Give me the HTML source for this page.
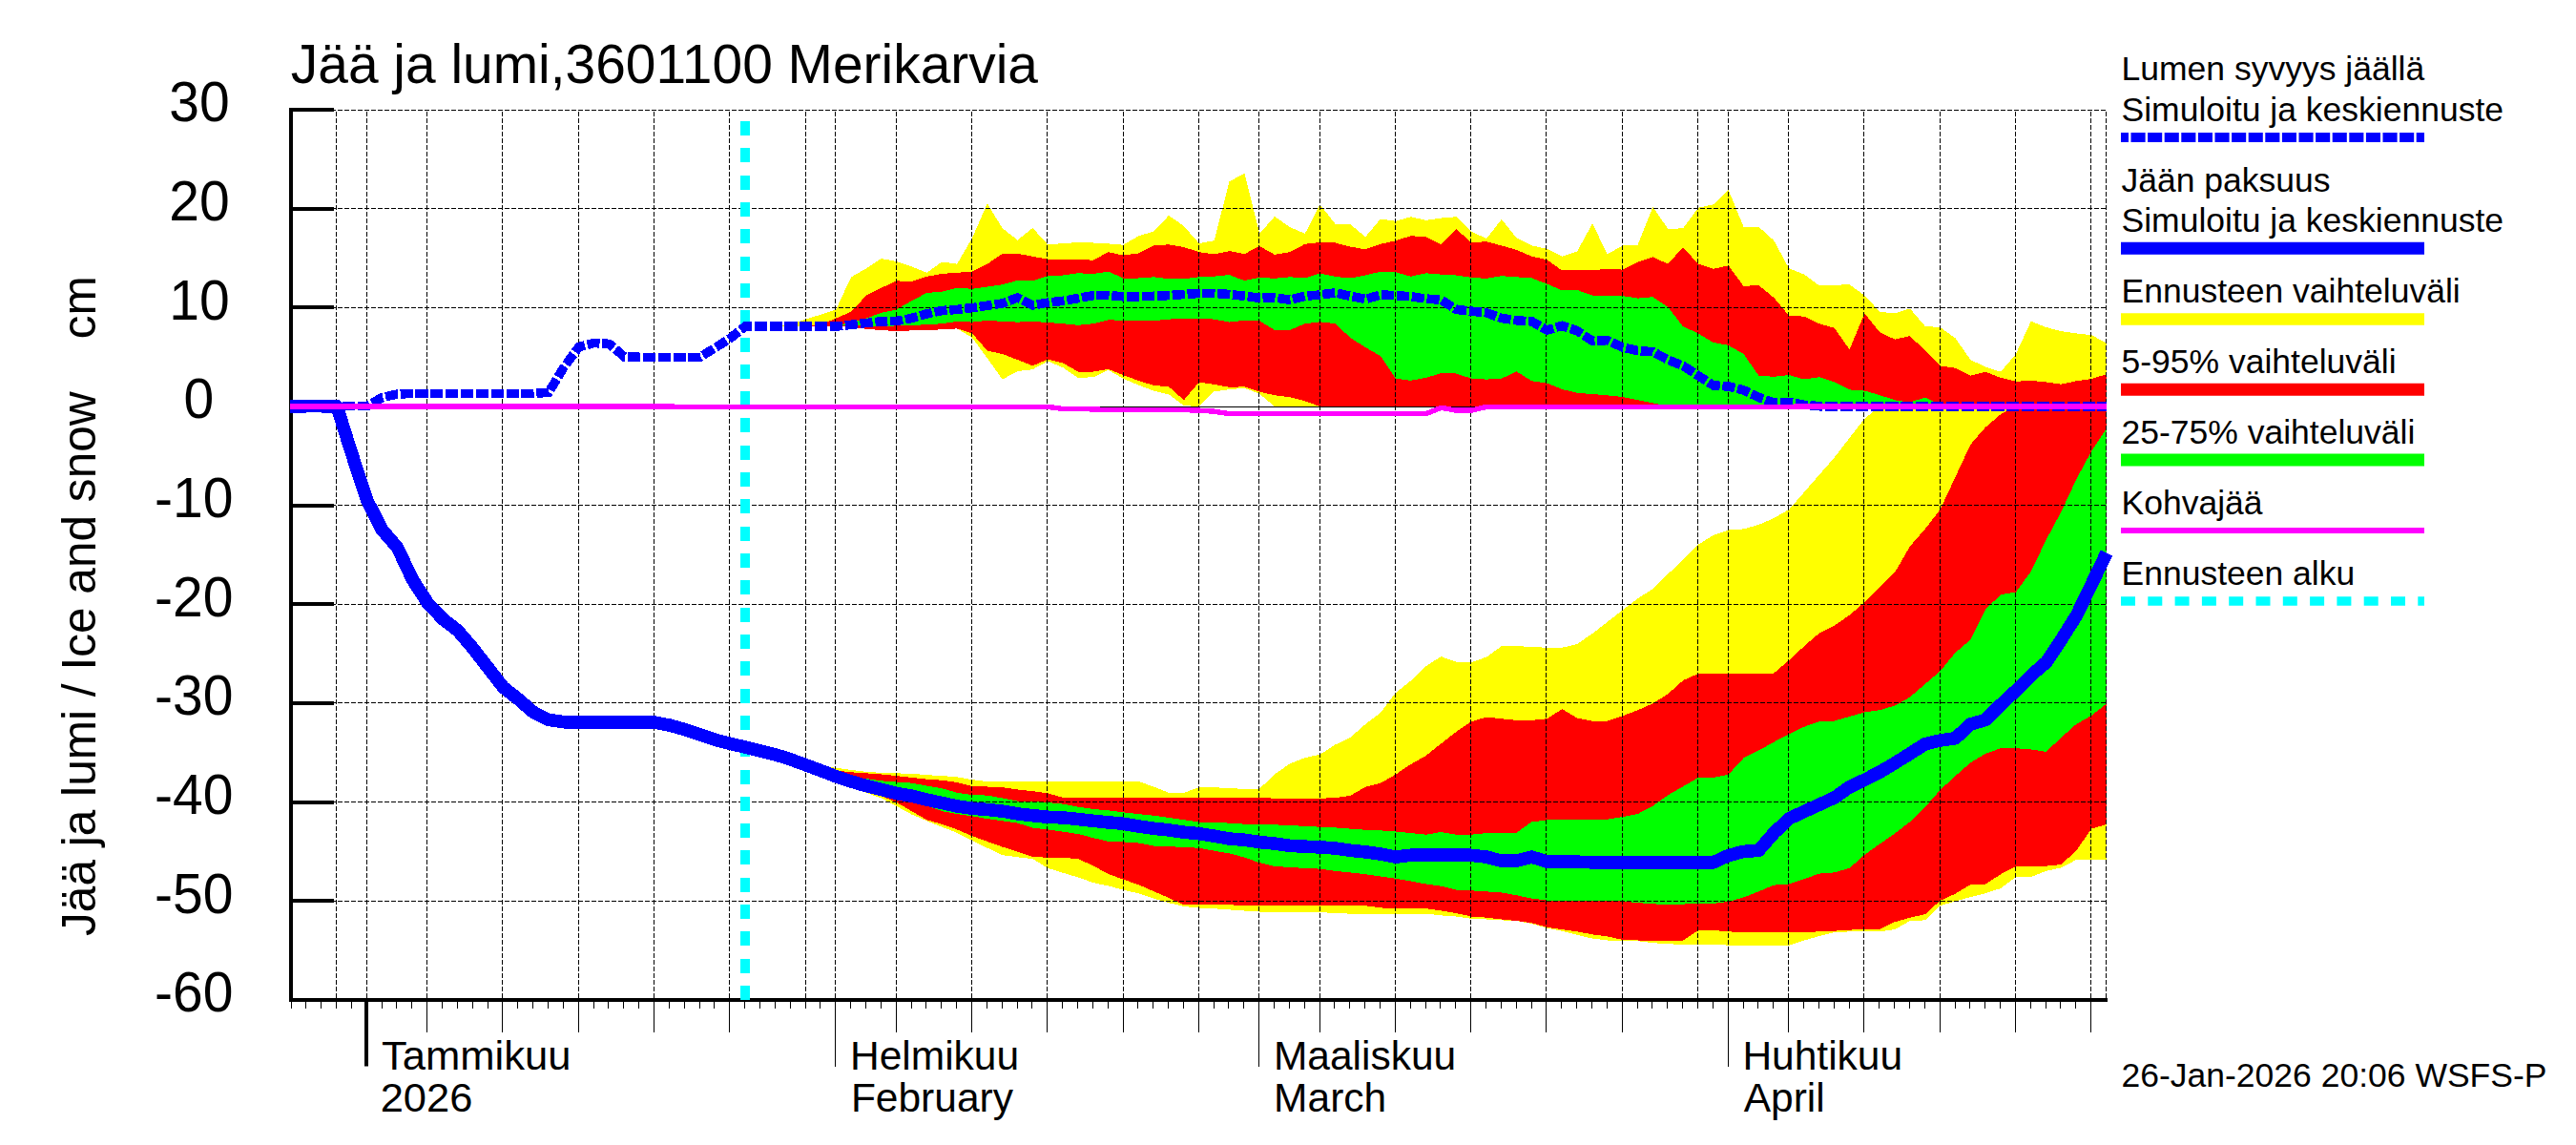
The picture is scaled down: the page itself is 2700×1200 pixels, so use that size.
<!DOCTYPE html>
<html lang="fi"><head><meta charset="utf-8"><title>Jää ja lumi, 3601100 Merikarvia</title>
<style>
html,body{margin:0;padding:0;background:#fff;}
body{width:2700px;height:1200px;overflow:hidden;}
svg{display:block;}
text{font-family:"Liberation Sans",sans-serif;fill:#000;}
.tk{font-size:57px;}
.mo{font-size:42.5px;}
.lg{font-size:35.5px;}
.ti{font-size:56.9px;}
.yl{font-size:49.6px;}
.g{stroke:#000;stroke-width:1;stroke-dasharray:5 2;fill:none;shape-rendering:crispEdges;}
.t1{stroke:#000;stroke-width:1;shape-rendering:crispEdges;}
</style></head><body>
<svg width="2700" height="1200" viewBox="0 0 2700 1200">
<rect width="2700" height="1200" fill="#fff"/>
<defs><clipPath id="cp"><rect x="305" y="113" width="1903.5" height="937"/></clipPath></defs>
<g clip-path="url(#cp)" shape-rendering="crispEdges">
<polygon fill="#ffff00" points="781.1,783 797,786.9 812.9,790.9 828.7,795.9 844.6,801.3 860.4,803.1 876.3,804.7 892.1,807 908,808.8 923.8,809.9 939.7,810.4 955.5,810.8 971.4,812.2 987.3,813.1 1003.1,814.3 1019,817.2 1034.8,819 1050.7,819 1066.5,819 1082.4,819 1098.2,819 1114.1,819 1129.9,819 1145.8,819 1161.7,819 1177.5,819 1193.4,819 1209.2,824.5 1225.1,830.8 1240.9,830.8 1256.8,825.1 1272.6,825.1 1288.5,826.3 1304.3,826.7 1320.2,826.7 1336,811.3 1351.9,800.5 1367.8,794.1 1383.6,790.7 1399.5,780.5 1415.3,773 1431.2,758.9 1447,747.1 1462.9,726 1478.7,713.5 1494.6,698.1 1510.4,688.1 1526.3,693.6 1542.2,694.2 1558,688.6 1573.9,677.2 1589.7,677.2 1605.6,677.9 1621.4,678.8 1637.3,678.8 1653.1,674.9 1669,664.1 1684.8,651.8 1700.7,639.3 1716.6,627.3 1732.4,617.1 1748.3,601.6 1764.1,586.6 1780,570.8 1795.8,560.8 1811.7,555.5 1827.5,554.4 1843.4,549.9 1859.2,543.1 1875.1,534 1891,515.8 1906.8,497.6 1922.7,479.5 1938.5,459 1954.4,438.6 1970.2,426.1 1986.1,426 2001.9,426 2017.8,426 2033.6,426 2049.5,426 2065.4,426 2081.2,426 2097.1,426 2112.9,426 2128.8,426 2144.6,426 2160.5,426 2176.3,426 2192.2,426 2208,426 2208,901 2192.2,901 2176.3,901 2160.5,909.4 2144.6,912.8 2128.8,919 2112.9,919 2097.1,931 2081.2,936.2 2065.4,940.1 2049.5,944.6 2033.6,949.2 2017.8,964.4 2001.9,965.1 1986.1,974.1 1970.2,976.4 1954.4,976.4 1938.5,976.4 1922.7,977.1 1906.8,981 1891,985.5 1875.1,990.7 1859.2,990.7 1843.4,990.7 1827.5,990.7 1811.7,990.7 1795.8,989.7 1780,989.7 1764.1,989.7 1748.3,989.4 1732.4,988.1 1716.6,986.2 1700.7,985.5 1684.8,985.5 1669,983.6 1653.1,979.8 1637.3,975.7 1621.4,972.6 1605.6,968 1589.7,965.1 1573.9,964.4 1558,963.5 1542.2,962.8 1526.3,960.5 1510.4,959.4 1494.6,957.6 1478.7,957.6 1462.9,957.6 1447,957.6 1431.2,957.6 1415.3,957.6 1399.5,957.1 1383.6,956 1367.8,956 1351.9,956 1336,955.8 1320.2,955.5 1304.3,954.5 1288.5,953.4 1272.6,952.3 1256.8,951.6 1240.9,950 1225.1,946.2 1209.2,941.6 1193.4,936.4 1177.5,932.6 1161.7,928.5 1145.8,925.1 1129.9,919.4 1114.1,914.8 1098.2,909.8 1082.4,900.1 1066.5,898.3 1050.7,896.2 1034.8,888.7 1019,880.8 1003.1,872.8 987.3,866.7 971.4,860.3 955.5,853.5 939.7,844.9 923.8,836.5 908,830.8 892.1,825.8 876.3,819.5 860.4,809.3 844.6,801.7 828.7,795.9 812.9,790.9 797,786.9 781.1,783"/>
<polygon fill="#ff0000" points="781.1,783 797,786.9 812.9,790.9 828.7,795.9 844.6,801.7 860.4,805.8 876.3,807.4 892.1,809.3 908,810.4 923.8,811.5 939.7,813.1 955.5,814.9 971.4,816.7 987.3,817.7 1003.1,819.9 1019,824 1034.8,824.5 1050.7,825.1 1066.5,827.4 1082.4,829.2 1098.2,831.3 1114.1,835.8 1129.9,836.3 1145.8,836.3 1161.7,836.3 1177.5,836.3 1193.4,836.3 1209.2,836.3 1225.1,836.3 1240.9,836.3 1256.8,836.3 1272.6,836.3 1288.5,836.3 1304.3,836.2 1320.2,836.2 1336,836.6 1351.9,836.8 1367.8,836.8 1383.6,836.8 1399.5,836.1 1415.3,833.9 1431.2,824.8 1447,820.7 1462.9,811.6 1478.7,801 1494.6,791.9 1510.4,779.4 1526.3,766.9 1542.2,756.2 1558,751.5 1573.9,753.3 1589.7,754.9 1605.6,754.9 1621.4,753.3 1637.3,743.1 1653.1,752.6 1669,755.8 1684.8,755.5 1700.7,750.3 1716.6,744.2 1732.4,737.4 1748.3,727.2 1764.1,713.1 1780,706 1795.8,705.6 1811.7,705.6 1827.5,705.6 1843.4,705.6 1859.2,705.6 1875.1,692 1891,677.2 1906.8,663.6 1922.7,655.5 1938.5,644.8 1954.4,631.1 1970.2,615.2 1986.1,599.9 2001.9,572.6 2017.8,554.4 2033.6,534 2049.5,499.9 2065.4,465.8 2081.2,447.7 2097.1,434.1 2112.9,426.1 2128.8,426 2144.6,426 2160.5,426 2176.3,426 2192.2,426 2208,426 2208,864 2192.2,868.6 2176.3,891.3 2160.5,906 2144.6,907.6 2128.8,908.3 2112.9,908.3 2097.1,916.2 2081.2,926.5 2065.4,927.1 2049.5,936.7 2033.6,943.9 2017.8,958.2 2001.9,961.7 1986.1,966.2 1970.2,974.1 1954.4,974.1 1938.5,974.6 1922.7,975.7 1906.8,976.4 1891,976.9 1875.1,976.9 1859.2,976.9 1843.4,976.9 1827.5,976.9 1811.7,976.4 1795.8,975 1780,975 1764.1,985.7 1748.3,986.1 1732.4,986.1 1716.6,985.5 1700.7,984.8 1684.8,981.5 1669,979.3 1653.1,976.4 1637.3,974.1 1621.4,971.9 1605.6,967.3 1589.7,965.1 1573.9,963.5 1558,961.7 1542.2,960.5 1526.3,957.1 1510.4,954.4 1494.6,952.1 1478.7,952.1 1462.9,952.1 1447,951.4 1431.2,949.2 1415.3,949.2 1399.5,949.2 1383.6,949.2 1367.8,949.2 1351.9,949.2 1336,948.8 1320.2,948.8 1304.3,948.8 1288.5,948.4 1272.6,948.4 1256.8,948.4 1240.9,948.4 1225.1,941 1209.2,934.1 1193.4,927.3 1177.5,921.7 1161.7,916 1145.8,907.3 1129.9,900.1 1114.1,898.9 1098.2,898.9 1082.4,897.8 1066.5,892.6 1050.7,887.6 1034.8,881.9 1019,876.2 1003.1,869.4 987.3,863.8 971.4,859.2 955.5,850.1 939.7,841 923.8,834.2 908,829.7 892.1,825.1 876.3,819.5 860.4,809.3 844.6,801.7 828.7,795.9 812.9,790.9 797,786.9 781.1,783"/>
<polygon fill="#00ff00" points="781.1,783 797,786.9 812.9,790.9 828.7,795.9 844.6,801.7 860.4,807.7 876.3,811.5 892.1,813.8 908,816.1 923.8,818.3 939.7,819.5 955.5,820.6 971.4,823.6 987.3,826.3 1003.1,830.8 1019,833.1 1034.8,833.6 1050.7,836.5 1066.5,839.5 1082.4,839.9 1098.2,841 1114.1,842.6 1129.9,845.6 1145.8,847.9 1161.7,849.4 1177.5,851.3 1193.4,853.1 1209.2,854.7 1225.1,856.9 1240.9,859.2 1256.8,861.5 1272.6,861.9 1288.5,862.6 1304.3,863.7 1320.2,864.1 1336,864.3 1351.9,865.1 1367.8,865.8 1383.6,866.7 1399.5,867.4 1415.3,868.6 1431.2,869.7 1447,870.4 1462.9,871.5 1478.7,873.1 1494.6,874.7 1510.4,872 1526.3,874.7 1542.2,874.7 1558,873.1 1573.9,872.6 1589.7,872.6 1605.6,861.3 1621.4,859.5 1637.3,859 1653.1,859 1669,859 1684.8,858.7 1700.7,856.1 1716.6,853 1732.4,844.7 1748.3,833.3 1764.1,824.3 1780,814.9 1795.8,814.9 1811.7,811.7 1827.5,794.5 1843.4,786.5 1859.2,777.7 1875.1,769.2 1891,761.7 1906.8,756.2 1922.7,755.5 1938.5,751 1954.4,746.5 1970.2,744.2 1986.1,739.6 2001.9,730.6 2017.8,716.9 2033.6,703.3 2049.5,684 2065.4,670.4 2081.2,638.5 2097.1,623.2 2112.9,620.6 2128.8,598.8 2144.6,565.8 2160.5,536.2 2176.3,502.2 2192.2,472.7 2208,448.8 2208,737.4 2192.2,749.9 2176.3,758.9 2160.5,772.9 2144.6,788 2128.8,785.4 2112.9,784.2 2097.1,784.2 2081.2,789.9 2065.4,799.3 2049.5,813.2 2033.6,827.9 2017.8,845.8 2001.9,861.3 1986.1,873.6 1970.2,884.5 1954.4,895.8 1938.5,909.9 1922.7,914.4 1906.8,915.6 1891,921.2 1875.1,926.5 1859.2,927.6 1843.4,934.4 1827.5,940.4 1811.7,945 1795.8,946.9 1780,946.9 1764.1,947.6 1748.3,948.5 1732.4,947.2 1716.6,946.2 1700.7,944.6 1684.8,943.9 1669,943.9 1653.1,943.9 1637.3,943.9 1621.4,943.5 1605.6,941.7 1589.7,938.3 1573.9,935.5 1558,934.4 1542.2,933.3 1526.3,932.6 1510.4,928.7 1494.6,926.5 1478.7,923.5 1462.9,920.8 1447,918.5 1431.2,916.2 1415.3,914.4 1399.5,912.8 1383.6,910.6 1367.8,909.9 1351.9,909 1336,907.9 1320.2,904.2 1304.3,898.5 1288.5,894.4 1272.6,891.7 1256.8,888.7 1240.9,888 1225.1,887.1 1209.2,886.5 1193.4,883.5 1177.5,882.4 1161.7,881.9 1145.8,878.1 1129.9,874 1114.1,871.7 1098.2,869.4 1082.4,867.6 1066.5,862.6 1050.7,860.3 1034.8,858.1 1019,855.3 1003.1,853.1 987.3,850.1 971.4,844.5 955.5,839.5 939.7,834.9 923.8,830.4 908,825.8 892.1,820.6 876.3,814.9 860.4,808.6 844.6,801.7 828.7,795.9 812.9,790.9 797,786.9 781.1,783"/>
<polygon fill="#ffff00" points="781.1,342.1 797,342.1 812.9,342.1 828.7,339.8 844.6,334.6 860.4,329.6 876.3,324.4 892.1,290.3 908,281.3 923.8,271 939.7,274 955.5,279.4 971.4,285.7 987.3,274.5 1003.1,276.7 1019,249.5 1034.8,213.3 1050.7,239.3 1066.5,251.6 1082.4,238.9 1098.2,256.3 1114.1,255.1 1129.9,254 1145.8,254.5 1161.7,255.4 1177.5,256.7 1193.4,247.2 1209.2,242.7 1225.1,225.8 1240.9,237 1256.8,255.1 1272.6,252.2 1288.5,190.4 1304.3,181.5 1320.2,244.8 1336,226.9 1351.9,238.1 1367.8,244.8 1383.6,214.4 1399.5,234.7 1415.3,235.2 1431.2,248.2 1447,229.5 1462.9,231.8 1478.7,227.2 1494.6,230.9 1510.4,228.6 1526.3,227.2 1542.2,242.7 1558,250 1573.9,229.9 1589.7,249.5 1605.6,257.4 1621.4,260.8 1637.3,268.6 1653.1,263.6 1669,234.2 1684.8,266.4 1700.7,257.4 1716.6,256.5 1732.4,216.9 1748.3,239.9 1764.1,239.3 1780,217.7 1795.8,214.3 1811.7,199.2 1827.5,237.7 1843.4,237.7 1859.2,252 1875.1,281.3 1891,287.6 1906.8,299.4 1922.7,298.7 1938.5,298.3 1954.4,309.6 1970.2,326.7 1986.1,328.5 2001.9,323.4 2017.8,341.9 2033.6,343 2049.5,354.4 2065.4,377.1 2081.2,384.6 2097.1,389.7 2112.9,371 2128.8,336.6 2144.6,343 2160.5,347.1 2176.3,349.4 2192.2,351.2 2208,359.6 2208,426 2192.2,426 2176.3,426 2160.5,426 2144.6,426 2128.8,426 2112.9,426 2097.1,426 2081.2,426 2065.4,426 2049.5,426 2033.6,426 2017.8,426 2001.9,426 1986.1,426 1970.2,426 1954.4,426 1938.5,426 1922.7,426 1906.8,426 1891,426 1875.1,426 1859.2,426 1843.4,426 1827.5,426 1811.7,426 1795.8,426 1780,426 1764.1,426 1748.3,426 1732.4,426 1716.6,426 1700.7,426 1684.8,426 1669,426 1653.1,426 1637.3,426 1621.4,426 1605.6,426 1589.7,426 1573.9,426 1558,426 1542.2,426 1526.3,426 1510.4,426 1494.6,426 1478.7,426 1462.9,426 1447,426 1431.2,426 1415.3,426 1399.5,426 1383.6,426 1367.8,426 1351.9,426 1336,426 1320.2,412.8 1304.3,406.7 1288.5,408.2 1272.6,410.3 1256.8,426 1240.9,425.1 1225.1,413.4 1209.2,409.7 1193.4,403.6 1177.5,396.9 1161.7,387.9 1145.8,395.3 1129.9,395.9 1114.1,385.2 1098.2,378.5 1082.4,387.2 1066.5,389 1050.7,397.7 1034.8,375.5 1019,353.9 1003.1,344.4 987.3,345.3 971.4,346 955.5,346.4 939.7,347.1 923.8,346 908,344.8 892.1,342.6 876.3,342.1 860.4,342.3 844.6,342.1 828.7,342.1 812.9,342.1 797,342.1 781.1,342.1"/>
<polygon fill="#ff0000" points="781.1,342.1 797,342.1 812.9,342.1 828.7,342.1 844.6,342.1 860.4,340.3 876.3,333.5 892.1,326.7 908,309.6 923.8,301.7 939.7,294.4 955.5,294.9 971.4,289.9 987.3,286.9 1003.1,285.8 1019,284.7 1034.8,276.7 1050.7,265.8 1066.5,265.8 1082.4,268.8 1098.2,271.7 1114.1,272.2 1129.9,272.2 1145.8,272.6 1161.7,264.2 1177.5,267.6 1193.4,265.4 1209.2,257.4 1225.1,256.3 1240.9,259 1256.8,264.2 1272.6,266.5 1288.5,263.1 1304.3,266.2 1320.2,258 1336,266.8 1351.9,264.2 1367.8,255.8 1383.6,254 1399.5,254.5 1415.3,258.6 1431.2,261.3 1447,255.8 1462.9,252.2 1478.7,247.2 1494.6,248.3 1510.4,256.1 1526.3,240.1 1542.2,254 1558,253.3 1573.9,257.4 1589.7,262 1605.6,268.8 1621.4,272.2 1637.3,283.5 1653.1,282.9 1669,283.2 1684.8,281.9 1700.7,282.6 1716.6,274.5 1732.4,269.4 1748.3,276.6 1764.1,259.1 1780,276.7 1795.8,281.7 1811.7,278.4 1827.5,299.9 1843.4,299 1859.2,311.9 1875.1,330.8 1891,331.7 1906.8,339.2 1922.7,343.7 1938.5,366.3 1954.4,328.4 1970.2,348.2 1986.1,355.7 2001.9,352.1 2017.8,367.5 2033.6,383.4 2049.5,385.7 2065.4,393.7 2081.2,389.8 2097.1,395.9 2112.9,399.8 2128.8,398.9 2144.6,400.5 2160.5,402.7 2176.3,399.3 2192.2,397.1 2208,392.1 2208,426 2192.2,426 2176.3,426 2160.5,426 2144.6,426 2128.8,426 2112.9,426 2097.1,426 2081.2,426 2065.4,426 2049.5,426 2033.6,426 2017.8,426 2001.9,426 1986.1,426 1970.2,426 1954.4,426 1938.5,426 1922.7,426 1906.8,426 1891,426 1875.1,426 1859.2,426 1843.4,426 1827.5,426 1811.7,426 1795.8,426 1780,426 1764.1,426 1748.3,426 1732.4,426 1716.6,426 1700.7,426 1684.8,426 1669,426 1653.1,426 1637.3,426 1621.4,426 1605.6,426 1589.7,426 1573.9,426 1558,426 1542.2,426 1526.3,426 1510.4,426 1494.6,426 1478.7,426 1462.9,426 1447,426 1431.2,426 1415.3,426 1399.5,426 1383.6,426 1367.8,420.3 1351.9,416.2 1336,414.2 1320.2,410.7 1304.3,405.4 1288.5,405.7 1272.6,403 1256.8,400.5 1240.9,419.3 1225.1,405.3 1209.2,403.9 1193.4,399 1177.5,393.2 1161.7,386.9 1145.8,389.5 1129.9,389.5 1114.1,380.4 1098.2,376.6 1082.4,383.3 1066.5,377.1 1050.7,371 1034.8,367.5 1019,349.4 1003.1,344.4 987.3,345.3 971.4,346 955.5,346.4 939.7,347.1 923.8,346 908,344.8 892.1,342.6 876.3,342.1 860.4,342.3 844.6,342.1 828.7,342.1 812.9,342.1 797,342.1 781.1,342.1"/>
<polygon fill="#00ff00" points="781.1,342.1 797,342.1 812.9,342.1 828.7,342.1 844.6,342.1 860.4,342.3 876.3,341.4 892.1,338 908,333.5 923.8,327.8 939.7,324.4 955.5,315.3 971.4,306.9 987.3,305.8 1003.1,301.7 1019,302.8 1034.8,300.6 1050.7,298.3 1066.5,293.8 1082.4,294.4 1098.2,289.2 1114.1,288.5 1129.9,286.3 1145.8,286.9 1161.7,284.7 1177.5,291.5 1193.4,291.5 1209.2,290.3 1225.1,292.2 1240.9,292.2 1256.8,290.3 1272.6,289.7 1288.5,288.1 1304.3,294.1 1320.2,290.9 1336,291.8 1351.9,290.3 1367.8,291.5 1383.6,286.5 1399.5,289.9 1415.3,291.5 1431.2,288.5 1447,284.7 1462.9,285.3 1478.7,289.7 1494.6,286.3 1510.4,287.6 1526.3,288.5 1542.2,290.8 1558,291.9 1573.9,289.2 1589.7,290.3 1605.6,291.5 1621.4,297.6 1637.3,304.4 1653.1,304 1669,309.6 1684.8,309.9 1700.7,310.1 1716.6,312.6 1732.4,311.2 1748.3,321.9 1764.1,342.3 1780,349.4 1795.8,358.9 1811.7,361.9 1827.5,371 1843.4,393.7 1859.2,394.8 1875.1,393 1891,397.5 1906.8,395.2 1922.7,400.5 1938.5,408.4 1954.4,409.6 1970.2,414.1 1986.1,419.3 2001.9,421.6 2017.8,416.5 2033.6,424.3 2049.5,426 2065.4,426 2081.2,426 2097.1,426 2112.9,426 2128.8,426 2144.6,426 2160.5,426 2176.3,426 2192.2,426 2208,426 2208,426 2192.2,426 2176.3,426 2160.5,426 2144.6,426 2128.8,426 2112.9,426 2097.1,426 2081.2,426 2065.4,426 2049.5,426 2033.6,426 2017.8,426 2001.9,426 1986.1,426 1970.2,426 1954.4,426 1938.5,426 1922.7,426 1906.8,426 1891,426 1875.1,426 1859.2,426 1843.4,426 1827.5,426 1811.7,426 1795.8,426 1780,426 1764.1,426 1748.3,426 1732.4,422.3 1716.6,419.3 1700.7,416 1684.8,414.4 1669,413 1653.1,411.8 1637.3,408 1621.4,401.6 1605.6,399.3 1589.7,389.4 1573.9,396.7 1558,397.6 1542.2,396.7 1526.3,391.5 1510.4,391.2 1494.6,395.9 1478.7,398.8 1462.9,396.7 1447,373.2 1431.2,364.1 1415.3,353.9 1399.5,339.2 1383.6,337.3 1367.8,339.2 1351.9,346 1336,346 1320.2,336.3 1304.3,335.8 1288.5,337.6 1272.6,334.6 1256.8,333.5 1240.9,333.9 1225.1,334.6 1209.2,336.2 1193.4,335.8 1177.5,335.8 1161.7,335.3 1145.8,339.2 1129.9,340.8 1114.1,339.2 1098.2,338 1082.4,336.9 1066.5,337.6 1050.7,336.9 1034.8,335.8 1019,337.6 1003.1,336.9 987.3,339.2 971.4,340.3 955.5,340.8 939.7,341.4 923.8,342.1 908,342.1 892.1,340.3 876.3,342.1 860.4,342.3 844.6,342.1 828.7,342.1 812.9,342.1 797,342.1 781.1,342.1"/>
</g>
<g class="g">
<path d="M352.5 117V1046" stroke-dasharray="4.5 2.5"/>
<path d="M384.5 117V1046" stroke-dasharray="4.5 2.5"/>
<path d="M447.5 117V1046" stroke-dasharray="4.5 2.5"/>
<path d="M526.5 117V1046" stroke-dasharray="4.5 2.5"/>
<path d="M606.5 117V1046" stroke-dasharray="4.5 2.5"/>
<path d="M685.5 117V1046" stroke-dasharray="4.5 2.5"/>
<path d="M764.5 117V1046" stroke-dasharray="4.5 2.5"/>
<path d="M844.5 117V1046" stroke-dasharray="4.5 2.5"/>
<path d="M875.5 117V1046" stroke-dasharray="4.5 2.5"/>
<path d="M939.5 117V1046" stroke-dasharray="4.5 2.5"/>
<path d="M1018.5 117V1046" stroke-dasharray="4.5 2.5"/>
<path d="M1097.5 117V1046" stroke-dasharray="4.5 2.5"/>
<path d="M1177.5 117V1046" stroke-dasharray="4.5 2.5"/>
<path d="M1256.5 117V1046" stroke-dasharray="4.5 2.5"/>
<path d="M1319.5 117V1046" stroke-dasharray="4.5 2.5"/>
<path d="M1383.5 117V1046" stroke-dasharray="4.5 2.5"/>
<path d="M1462.5 117V1046" stroke-dasharray="4.5 2.5"/>
<path d="M1541.5 117V1046" stroke-dasharray="4.5 2.5"/>
<path d="M1620.5 117V1046" stroke-dasharray="4.5 2.5"/>
<path d="M1700.5 117V1046" stroke-dasharray="4.5 2.5"/>
<path d="M1779.5 117V1046" stroke-dasharray="4.5 2.5"/>
<path d="M1811.5 117V1046" stroke-dasharray="4.5 2.5"/>
<path d="M1874.5 117V1046" stroke-dasharray="4.5 2.5"/>
<path d="M1953.5 117V1046" stroke-dasharray="4.5 2.5"/>
<path d="M2033.5 117V1046" stroke-dasharray="4.5 2.5"/>
<path d="M2112.5 117V1046" stroke-dasharray="4.5 2.5"/>
<path d="M2191.5 117V1046" stroke-dasharray="4.5 2.5"/>
<path d="M2207.5 117V1046" stroke-dasharray="4.5 2.5"/>
<path d="M305 115.5H2208"/>
<path d="M305 218.5H2208"/>
<path d="M305 322.5H2208"/>
<path d="M305 529.5H2208"/>
<path d="M305 633.5H2208"/>
<path d="M305 736.5H2208"/>
<path d="M305 840.5H2208"/>
<path d="M305 944.5H2208"/>
</g>
<g fill="#000" shape-rendering="crispEdges">
<rect x="303" y="113" width="4" height="937"/>
<rect x="303" y="1046" width="1905.5" height="4"/>
<rect x="303" y="113" width="47" height="4"/>
<rect x="303" y="217" width="47" height="4"/>
<rect x="303" y="320" width="47" height="4"/>
<rect x="303" y="528" width="47" height="4"/>
<rect x="303" y="631" width="47" height="4"/>
<rect x="303" y="735" width="47" height="4"/>
<rect x="303" y="839" width="47" height="4"/>
<rect x="303" y="942" width="47" height="4"/>
</g>
<path class="t1" d="M305 426.5H2208"/>
<path d="M781 1048V115" stroke="#00ffff" stroke-width="10" shape-rendering="crispEdges" stroke-dasharray="15 13.31" fill="none"/>
<polyline fill="none" stroke="#0000ff" stroke-width="9.6" shape-rendering="crispEdges" stroke-dasharray="13.1 2.755" stroke-dashoffset="9.9" points="305.5,425.6 321.4,425.6 337.2,425.6 353.1,425.6 368.9,425.6 384.8,425.6 400.6,416.5 416.5,413.1 432.3,412.4 448.2,412.4 464.1,412.4 479.9,412.4 495.8,412.4 511.6,412.4 527.5,412.4 543.3,412.4 559.2,412.4 575,411.3 590.9,385.1 606.7,363.6 622.6,359.5 638.5,360.4 654.3,373.8 670.2,374.3 686,374.3 701.9,374.3 717.7,374.3 733.6,374.3 749.4,364.7 765.3,354.5 781.1,342.1 797,342.1 812.9,342.1 828.7,342.1 844.6,342.1 860.4,342.3 876.3,342.1 892.1,340.3 908,338.5 923.8,336.9 939.7,336.4 955.5,333.5 971.4,328.9 987.3,325.5 1003.1,324.4 1019,322.6 1034.8,320.3 1050.7,318 1066.5,311.9 1082.4,319.9 1098.2,317.1 1114.1,315.3 1129.9,312.6 1145.8,309.6 1161.7,309.6 1177.5,310.8 1193.4,310.8 1209.2,310.3 1225.1,309.6 1240.9,308.5 1256.8,307.4 1272.6,307.4 1288.5,308.5 1304.3,310.2 1320.2,312.3 1336,311.9 1351.9,314.2 1367.8,310.3 1383.6,309 1399.5,306.9 1415.3,310.3 1431.2,313.5 1447,309 1462.9,309.6 1478.7,310.8 1494.6,313.1 1510.4,314.2 1526.3,324.4 1542.2,326.2 1558,327.8 1573.9,333.5 1589.7,335.8 1605.6,336.9 1621.4,346 1637.3,341.4 1653.1,346.7 1669,357.3 1684.8,356.6 1700.7,364.1 1716.6,367.5 1732.4,368.7 1748.3,377.1 1764.1,383.4 1780,393.7 1795.8,403.9 1811.7,405 1827.5,408.9 1843.4,416.4 1859.2,422 1875.1,421.6 1891,424.3 1906.8,425.7 1922.7,426 1938.5,426 1954.4,426 1970.2,426 1986.1,426 2001.9,426 2017.8,426 2033.6,426 2049.5,426 2065.4,426 2081.2,426 2097.1,426 2112.9,426 2128.8,426 2144.6,426 2160.5,426 2176.3,426 2192.2,426 2208,426"/>
<polyline fill="none" stroke="#0000ff" stroke-width="13.6" stroke-linejoin="round" shape-rendering="crispEdges" stroke-linecap="butt" points="304,426 321.4,425.7 337.2,425.7 353.1,425.9 368.9,476.1 384.8,524.4 400.6,555.5 416.5,573.7 432.3,607.3 448.2,631.9 464.1,648.7 479.9,660.9 495.8,679.5 511.6,699.9 527.5,720.3 543.3,732.8 559.2,746.5 575,754.4 590.9,756.7 606.7,757.1 622.6,757.1 638.5,757.1 654.3,757.1 670.2,757.1 686,757.1 701.9,760.1 717.7,764.6 733.6,769.8 749.4,775.3 765.3,779.4 781.1,783 797,786.9 812.9,790.9 828.7,795.9 844.6,801.7 860.4,807.6 876.3,813.8 892.1,819 908,823.6 923.8,827.4 939.7,831.5 955.5,834.2 971.4,838.1 987.3,841.5 1003.1,844.9 1019,847.2 1034.8,848.5 1050.7,850.1 1066.5,852.9 1082.4,854.7 1098.2,856.3 1114.1,856.9 1129.9,858.5 1145.8,860.3 1161.7,861.9 1177.5,863.3 1193.4,866 1209.2,868.3 1225.1,869.9 1240.9,872.2 1256.8,873.7 1272.6,876.2 1288.5,879 1304.3,880.3 1320.2,882.6 1336,884.1 1351.9,886.3 1367.8,887.2 1383.6,887.9 1399.5,889 1415.3,891.3 1431.2,892.9 1447,895.1 1462.9,898.1 1478.7,896.3 1494.6,895.8 1510.4,895.8 1526.3,895.8 1542.2,896.3 1558,898.1 1573.9,902.2 1589.7,902.2 1605.6,898.1 1621.4,903.1 1637.3,903.1 1653.1,903.2 1669,903.8 1684.8,903.8 1700.7,903.8 1716.6,903.8 1732.4,903.8 1748.3,903.8 1764.1,903.8 1780,903.8 1795.8,903.8 1811.7,896.6 1827.5,892.4 1843.4,891.3 1859.2,873.1 1875.1,858 1891,850.5 1906.8,843.3 1922.7,836 1938.5,824.9 1954.4,817.2 1970.2,809.2 1986.1,799.7 2001.9,789.9 2017.8,779.7 2033.6,776 2049.5,773.7 2065.4,758.9 2081.2,754.4 2097.1,738.5 2112.9,723.8 2128.8,707.9 2144.6,694.2 2160.5,670.4 2176.3,645.3 2192.2,612.4 2208,579.5"/>
<polyline fill="none" stroke="#ff00ff" stroke-width="5.4" shape-rendering="crispEdges" points="304,426 1098.2,426.4 1114.1,428.5 1129.9,428.5 1145.8,428.9 1161.7,429.6 1177.5,429.6 1193.4,429.6 1209.2,429.6 1225.1,429.6 1240.9,429.6 1256.8,430.1 1272.6,431.2 1288.5,433.6 1304.3,433.6 1320.2,433.6 1336,433.6 1351.9,433.6 1367.8,433.6 1383.6,433.6 1399.5,433.6 1415.3,433.6 1431.2,433.6 1447,433.6 1462.9,433.6 1478.7,433.6 1494.6,433.6 1510.4,427.3 1526.3,430.1 1542.2,430.1 1558,426.4 2208,426"/>
<g class="t1">
<path d="M305.5 1050V1057"/>
<path d="M320.5 1050V1057"/>
<path d="M336.5 1050V1057"/>
<path d="M352.5 1050V1057"/>
<path d="M368.5 1050V1057"/>
<path d="M400.5 1050V1057"/>
<path d="M415.5 1050V1057"/>
<path d="M431.5 1050V1057"/>
<path d="M447.5 1050V1082"/>
<path d="M463.5 1050V1057"/>
<path d="M479.5 1050V1057"/>
<path d="M495.5 1050V1057"/>
<path d="M511.5 1050V1057"/>
<path d="M526.5 1050V1082"/>
<path d="M542.5 1050V1057"/>
<path d="M558.5 1050V1057"/>
<path d="M574.5 1050V1057"/>
<path d="M590.5 1050V1057"/>
<path d="M606.5 1050V1082"/>
<path d="M622.5 1050V1057"/>
<path d="M637.5 1050V1057"/>
<path d="M653.5 1050V1057"/>
<path d="M669.5 1050V1057"/>
<path d="M685.5 1050V1082"/>
<path d="M701.5 1050V1057"/>
<path d="M717.5 1050V1057"/>
<path d="M733.5 1050V1057"/>
<path d="M748.5 1050V1057"/>
<path d="M764.5 1050V1082"/>
<path d="M780.5 1050V1057"/>
<path d="M796.5 1050V1057"/>
<path d="M812.5 1050V1057"/>
<path d="M828.5 1050V1057"/>
<path d="M844.5 1050V1057"/>
<path d="M859.5 1050V1057"/>
<path d="M875.5 1050V1117.5"/>
<path d="M891.5 1050V1057"/>
<path d="M907.5 1050V1057"/>
<path d="M923.5 1050V1057"/>
<path d="M939.5 1050V1082"/>
<path d="M955.5 1050V1057"/>
<path d="M970.5 1050V1057"/>
<path d="M986.5 1050V1057"/>
<path d="M1002.5 1050V1057"/>
<path d="M1018.5 1050V1082"/>
<path d="M1034.5 1050V1057"/>
<path d="M1050.5 1050V1057"/>
<path d="M1066.5 1050V1057"/>
<path d="M1081.5 1050V1057"/>
<path d="M1097.5 1050V1082"/>
<path d="M1113.5 1050V1057"/>
<path d="M1129.5 1050V1057"/>
<path d="M1145.5 1050V1057"/>
<path d="M1161.5 1050V1057"/>
<path d="M1177.5 1050V1082"/>
<path d="M1192.5 1050V1057"/>
<path d="M1208.5 1050V1057"/>
<path d="M1224.5 1050V1057"/>
<path d="M1240.5 1050V1057"/>
<path d="M1256.5 1050V1082"/>
<path d="M1272.5 1050V1057"/>
<path d="M1287.5 1050V1057"/>
<path d="M1303.5 1050V1057"/>
<path d="M1319.5 1050V1117.5"/>
<path d="M1335.5 1050V1057"/>
<path d="M1351.5 1050V1057"/>
<path d="M1367.5 1050V1057"/>
<path d="M1383.5 1050V1082"/>
<path d="M1398.5 1050V1057"/>
<path d="M1414.5 1050V1057"/>
<path d="M1430.5 1050V1057"/>
<path d="M1446.5 1050V1057"/>
<path d="M1462.5 1050V1082"/>
<path d="M1478.5 1050V1057"/>
<path d="M1494.5 1050V1057"/>
<path d="M1509.5 1050V1057"/>
<path d="M1525.5 1050V1057"/>
<path d="M1541.5 1050V1082"/>
<path d="M1557.5 1050V1057"/>
<path d="M1573.5 1050V1057"/>
<path d="M1589.5 1050V1057"/>
<path d="M1605.5 1050V1057"/>
<path d="M1620.5 1050V1082"/>
<path d="M1636.5 1050V1057"/>
<path d="M1652.5 1050V1057"/>
<path d="M1668.5 1050V1057"/>
<path d="M1684.5 1050V1057"/>
<path d="M1700.5 1050V1082"/>
<path d="M1716.5 1050V1057"/>
<path d="M1731.5 1050V1057"/>
<path d="M1747.5 1050V1057"/>
<path d="M1763.5 1050V1057"/>
<path d="M1779.5 1050V1057"/>
<path d="M1795.5 1050V1057"/>
<path d="M1811.5 1050V1117.5"/>
<path d="M1827.5 1050V1057"/>
<path d="M1842.5 1050V1057"/>
<path d="M1858.5 1050V1057"/>
<path d="M1874.5 1050V1082"/>
<path d="M1890.5 1050V1057"/>
<path d="M1906.5 1050V1057"/>
<path d="M1922.5 1050V1057"/>
<path d="M1938.5 1050V1057"/>
<path d="M1953.5 1050V1082"/>
<path d="M1969.5 1050V1057"/>
<path d="M1985.5 1050V1057"/>
<path d="M2001.5 1050V1057"/>
<path d="M2017.5 1050V1057"/>
<path d="M2033.5 1050V1082"/>
<path d="M2049.5 1050V1057"/>
<path d="M2064.5 1050V1057"/>
<path d="M2080.5 1050V1057"/>
<path d="M2096.5 1050V1057"/>
<path d="M2112.5 1050V1082"/>
<path d="M2128.5 1050V1057"/>
<path d="M2144.5 1050V1057"/>
<path d="M2159.5 1050V1057"/>
<path d="M2175.5 1050V1057"/>
<path d="M2191.5 1050V1082"/>
</g>
<rect x="382" y="1050" width="4" height="67.5" fill="#000"/>
<text class="tk" text-anchor="middle" transform="translate(209,127.2) scale(1,1.05)">30</text>
<text class="tk" text-anchor="middle" transform="translate(209,230.9) scale(1,1.05)">20</text>
<text class="tk" text-anchor="middle" transform="translate(209,334.5) scale(1,1.05)">10</text>
<text class="tk" text-anchor="middle" transform="translate(208.4,438.2) scale(1,1.05)">0</text>
<text class="tk" transform="translate(162,541.9) scale(1,1.05)">-10</text>
<text class="tk" transform="translate(162,645.5) scale(1,1.05)">-20</text>
<text class="tk" transform="translate(162,749.2) scale(1,1.05)">-30</text>
<text class="tk" transform="translate(162,852.9) scale(1,1.05)">-40</text>
<text class="tk" transform="translate(162,956.5) scale(1,1.05)">-50</text>
<text class="tk" transform="translate(162,1060.2) scale(1,1.05)">-60</text>
<text class="ti" x="304.8" y="87">Jää ja lumi,3601100 Merikarvia</text>
<text class="yl" transform="translate(99.5,981) rotate(-90)" xml:space="preserve">Jää ja lumi / Ice and snow    cm</text>
<text class="mo" x="400" y="1120.8" textLength="198.5" lengthAdjust="spacingAndGlyphs">Tammikuu</text><text class="mo" x="398.7" y="1164.7" textLength="96.7" lengthAdjust="spacingAndGlyphs">2026</text>
<text class="mo" x="891" y="1120.8">Helmikuu</text><text class="mo" x="891.9" y="1164.7">February</text>
<text class="mo" x="1334.9" y="1120.8">Maaliskuu</text><text class="mo" x="1335.1" y="1164.7">March</text>
<text class="mo" x="1826.4" y="1120.8">Huhtikuu</text><text class="mo" x="1827.7" y="1164.7">April</text>
<text class="lg" x="2223.5" y="84">Lumen syvyys jäällä</text>
<text class="lg" x="2223.5" y="126.5">Simuloitu ja keskiennuste</text>
<path d="M2223 144H2541" stroke="#0000ff" stroke-width="10" stroke-dasharray="15.1 2.5" stroke-dashoffset="7.1" fill="none"/>
<text class="lg" x="2223.5" y="201">Jään paksuus</text>
<text class="lg" x="2223.5" y="243">Simuloitu ja keskiennuste</text>
<path d="M2223 260.3H2541" stroke="#0000ff" stroke-width="13" fill="none"/>
<text class="lg" x="2223.5" y="317.3">Ennusteen vaihteluväli</text>
<path d="M2223 334.5H2541" stroke="#ffff00" stroke-width="12.5" fill="none"/>
<text class="lg" x="2223.5" y="390.5">5-95% vaihteluväli</text>
<path d="M2223 408.2H2541" stroke="#ff0000" stroke-width="13" fill="none"/>
<text class="lg" x="2223.5" y="464.6">25-75% vaihteluväli</text>
<path d="M2223 482H2541" stroke="#00ff00" stroke-width="13" fill="none"/>
<text class="lg" x="2223.5" y="539">Kohvajää</text>
<path d="M2223 556H2541" stroke="#ff00ff" stroke-width="6" fill="none"/>
<text class="lg" x="2223.5" y="612.5">Ennusteen alku</text>
<path d="M2223 630H2541" stroke="#00ffff" stroke-width="9.5" stroke-dasharray="15 13.3" fill="none"/>
<text class="lg" x="2223.5" y="1139">26-Jan-2026 20:06 WSFS-P</text>
</svg></body></html>
